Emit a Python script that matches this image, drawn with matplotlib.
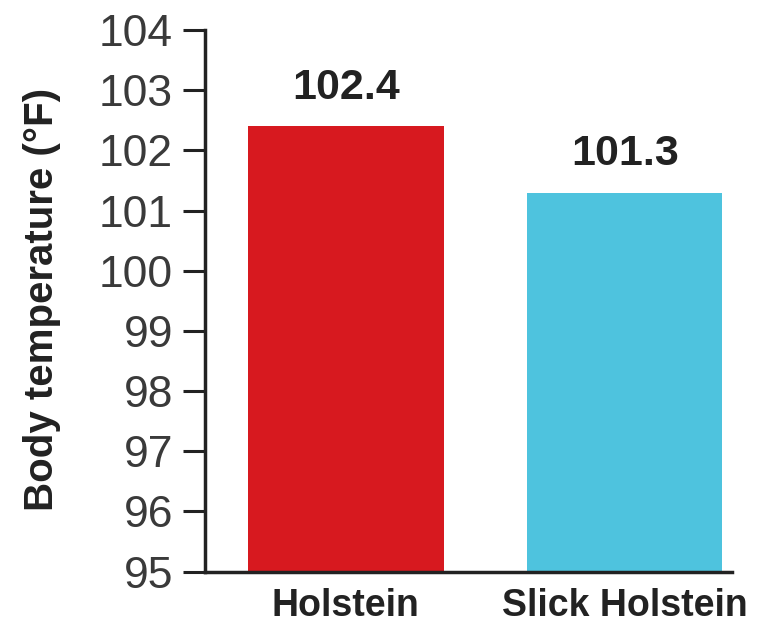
import matplotlib
matplotlib.use("Agg")
import matplotlib.pyplot as plt

# Average body temperature by breed
breeds = ["Holstein", "Slick Holstein"]
temps_f = [102.4, 101.3]
bar_colors = ["#D7191F", "#4EC3DE"]
y_ticks = [95, 96, 97, 98, 99, 100, 101, 102, 103, 104]

plt.rcParams["font.family"] = ["Liberation Sans", "DejaVu Sans"]

fig = plt.figure(figsize=(7.68, 6.28), dpi=100)
ax = fig.add_axes([0.267, 0.0897, 0.686, 0.8625])

x = list(range(len(breeds)))
bars = ax.bar(x, temps_f, width=0.7, color=bar_colors, bottom=0)

ax.set_ylim(95, 104)
ax.set_xlim(-0.505, 1.384)
ax.set_yticks(y_ticks)
ax.set_yticklabels([str(t) for t in y_ticks], fontsize=32, color="#3a3a3a")
ax.set_xticks(x)
ax.set_xticklabels(breeds, fontsize=27, fontweight="bold", color="#222222")

ax.tick_params(axis="y", length=16, width=2.2, color="#222222", pad=7)
ax.tick_params(axis="x", length=0, pad=12)

for side in ("top", "right"):
    ax.spines[side].set_visible(False)
for side in ("left", "bottom"):
    ax.spines[side].set_linewidth(2.5)
    ax.spines[side].set_color("#222222")

fig.text(42 / 768, 1 - 299 / 628, "Body temperature (°F)", rotation=90,
         ha="center", va="center", fontsize=29, fontweight="bold",
         color="#222222")

for rect, val in zip(bars, temps_f):
    ax.annotate(f"{val:.1f}", xy=(rect.get_x() + rect.get_width() / 2, val),
                xytext=(0, 13), textcoords="offset points",
                ha="center", va="bottom", fontsize=31, fontweight="bold",
                color="#222222")

fig.savefig("out.png", dpi=100)
